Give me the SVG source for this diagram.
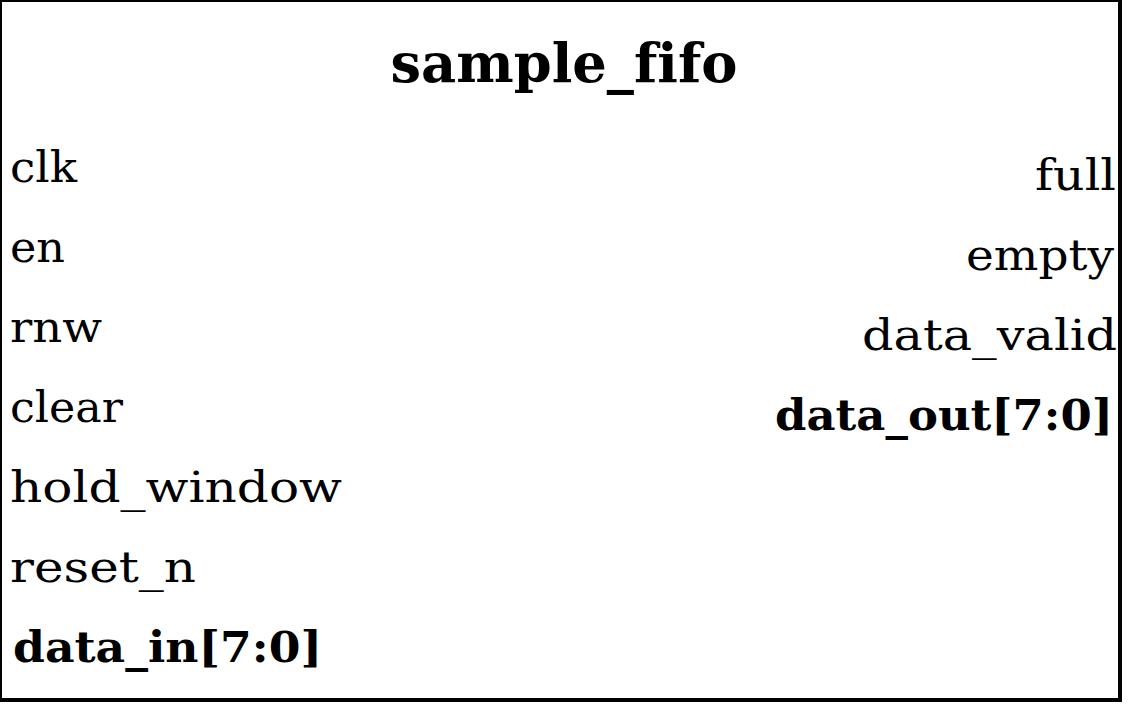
<svg xmlns="http://www.w3.org/2000/svg" width="1128" height="704" viewBox="0 0 1128 704">
<style>
text{font-variant-ligatures:none}
.t{font-family:"DejaVu Serif","Liberation Serif",serif;font-size:43px;fill:#000}
.b{font-weight:bold}
.r{text-anchor:end}
.title{font-family:"DejaVu Serif","Liberation Serif",serif;font-size:55px;font-weight:bold;text-anchor:middle;fill:#000}
</style>
<rect width="1128" height="704" fill="#fff"/>
<g id="block">
<rect x="0" y="0" width="1120" height="700" fill="#fff" stroke="#000" stroke-width="4"/>
<text class="title" x="564" y="82" textLength="347" lengthAdjust="spacingAndGlyphs">sample_fifo</text>
</g>
<g id="inputs">
<text class="t" x="10" y="182" textLength="67" lengthAdjust="spacingAndGlyphs">clk</text>
<text class="t" x="10" y="262" textLength="55" lengthAdjust="spacingAndGlyphs">en</text>
<text class="t" x="10" y="342" textLength="92" lengthAdjust="spacingAndGlyphs">rnw</text>
<text class="t" x="10" y="422" textLength="113" lengthAdjust="spacingAndGlyphs">clear</text>
<text class="t" x="10" y="502" textLength="332" lengthAdjust="spacingAndGlyphs">hold_window</text>
<text class="t" x="10" y="582" textLength="186" lengthAdjust="spacingAndGlyphs">reset_n</text>
<text class="t b" x="13" y="662" textLength="309" lengthAdjust="spacingAndGlyphs">data_in[7:0]</text>
</g>
<g id="outputs">
<text class="t r" x="1116" y="190" textLength="81" lengthAdjust="spacingAndGlyphs">full</text>
<text class="t r" x="1114" y="270" textLength="148" lengthAdjust="spacingAndGlyphs">empty</text>
<text class="t r" x="1117" y="350" textLength="255" lengthAdjust="spacingAndGlyphs">data_valid</text>
<text class="t b r" x="1113" y="430" textLength="338" lengthAdjust="spacingAndGlyphs">data_out[7:0]</text>
</g>
<g id="connectors"></g>
</svg>
